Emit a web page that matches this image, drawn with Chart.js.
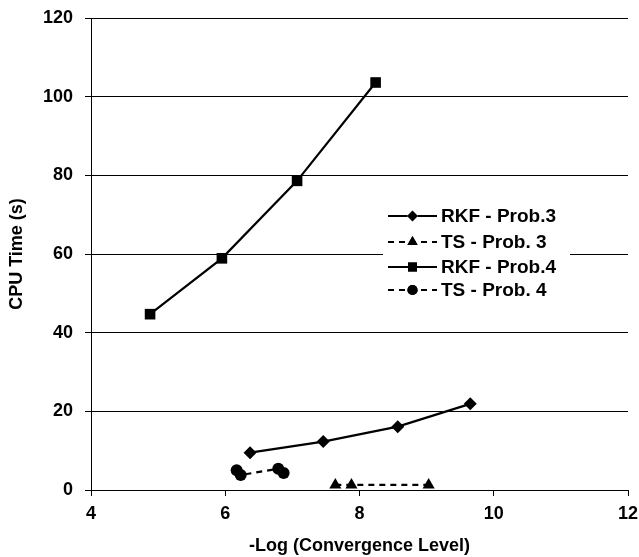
<!DOCTYPE html>
<html>
<head>
<meta charset="utf-8">
<script src="https://cdn.jsdelivr.net/npm/chart.js@4/dist/chart.umd.min.js"></script>
<style>
html,body{margin:0;padding:0;background:#fff;}
#wrap{width:639px;height:557px;position:relative;}
</style>
</head>
<body>
<div id="wrap"><canvas id="c" width="639" height="557"></canvas></div>
<script>
// ---- data ----
const seriesNames = ["RKF - Prob.3", "TS - Prob. 3", "RKF - Prob.4", "TS - Prob. 4"];
const rkf3X = [6.37, 7.46, 8.57, 9.65];
const rkf3Y = [9.5, 12.3, 16.1, 21.9];
const ts3X = [7.64, 7.88, 9.03];
const ts3Y = [1.3, 1.3, 1.3];
const rkf4X = [4.88, 5.95, 7.07, 8.24];
const rkf4Y = [44.7, 58.9, 78.6, 103.6];
const ts4X = [6.17, 6.23, 6.79, 6.87];
const ts4Y = [5.0, 3.8, 5.4, 4.3];
const xTicks = [4, 6, 8, 10, 12];
const yTicks = [0, 20, 40, 60, 80, 100, 120];

const pts = (xs, ys) => xs.map((x, i) => ({x: x, y: ys[i]}));
const FONT = "'Liberation Sans', Arial, Helvetica, sans-serif";

const styles = [
  {pointStyle: 'rectRot', pointRadius: 6.5, borderDash: []},
  {pointStyle: 'triangle', pointRadius: 7, borderDash: [6, 5]},
  {pointStyle: 'rect', pointRadius: 7.5, borderDash: []},
  {pointStyle: 'circle', pointRadius: 6, borderDash: [6, 5]}
];
const dataSets = [pts(rkf3X, rkf3Y), pts(ts3X, ts3Y), pts(rkf4X, rkf4Y), pts(ts4X, ts4Y)];

const datasets = dataSets.map((d, i) => ({
  label: seriesNames[i],
  data: d,
  showLine: true,
  borderColor: '#000',
  backgroundColor: '#000',
  borderWidth: 2.2,
  borderDash: styles[i].borderDash,
  pointStyle: styles[i].pointStyle,
  pointRadius: styles[i].pointRadius,
  pointBackgroundColor: '#000',
  pointBorderColor: '#000',
  pointBorderWidth: 0,
  tension: 0
}));

const legendPlugin = {
  id: 'insideLegend',
  afterDraw(chart) {
    const ctx = chart.ctx;
    const x0 = 388, x1 = 437, tx = 441;
    const ys = [216, 242, 267, 290];
    ctx.save();
    ctx.fillStyle = '#fff';
    ctx.fillRect(383, 200, 187, 106);
    ctx.font = "bold 19px " + FONT;
    ctx.textBaseline = 'middle';
    ctx.textAlign = 'left';
    chart.data.datasets.forEach((ds, i) => {
      const y = ys[i];
      ctx.strokeStyle = '#000';
      ctx.lineWidth = 2.2;
      ctx.setLineDash(ds.borderDash);
      ctx.beginPath();
      ctx.moveTo(x0, y);
      ctx.lineTo(x1, y);
      ctx.stroke();
      ctx.setLineDash([]);
      Chart.helpers.drawPoint(ctx, {pointStyle: ds.pointStyle, radius: ds.pointRadius * 0.85, borderWidth: 0, rotation: 0}, (x0 + x1) / 2, y);
      ctx.fillStyle = '#000';
      ctx.fill();
      ctx.fillStyle = '#000';
      ctx.fillText(ds.label, tx, y + 1);
    });
    ctx.restore();
  }
};

new Chart(document.getElementById('c'), {
  type: 'scatter',
  data: {datasets: datasets},
  options: {
    responsive: false,
    animation: false,
    layout: {padding: {top: 18, right: 11, left: 0, bottom: 0}},
    plugins: {legend: {display: false}, tooltip: {enabled: false}},
    scales: {
      x: {
        type: 'linear',
        min: 4, max: 12,
        afterBuildTicks: (s) => { s.ticks = xTicks.map(v => ({value: v})); },
        afterFit: (s) => { s.height = 67; s.paddingLeft = 0; s.paddingRight = 0; },
        grid: {display: true, drawOnChartArea: false, drawTicks: true, tickLength: 6, color: '#000', lineWidth: 1},
        border: {display: true, color: '#000', width: 1},
        ticks: {color: '#000', font: {family: FONT, size: 18, weight: 'bold'}, padding: 7, maxRotation: 0},
        title: {display: true, text: '-Log (Convergence Level)', color: '#000', font: {family: FONT, size: 18, weight: 'bold'}, padding: {top: 4, bottom: 0}}
      },
      y: {
        type: 'linear',
        min: 0, max: 120,
        afterBuildTicks: (s) => { s.ticks = yTicks.map(v => ({value: v})); },
        afterFit: (s) => { s.width = 91; s.paddingTop = 0; s.paddingBottom = 0; },
        grid: {display: true, drawOnChartArea: true, drawTicks: true, tickLength: 6, color: '#000', lineWidth: 1},
        border: {display: true, color: '#000', width: 1},
        ticks: {color: '#000', font: {family: FONT, size: 18, weight: 'bold'}, padding: 12},
        title: {display: true, text: 'CPU Time (s)', color: '#000', font: {family: FONT, size: 18, weight: 'bold'}, padding: {top: 6, bottom: 0}}
      }
    }
  },
  plugins: [legendPlugin]
});
</script>
</body>
</html>
